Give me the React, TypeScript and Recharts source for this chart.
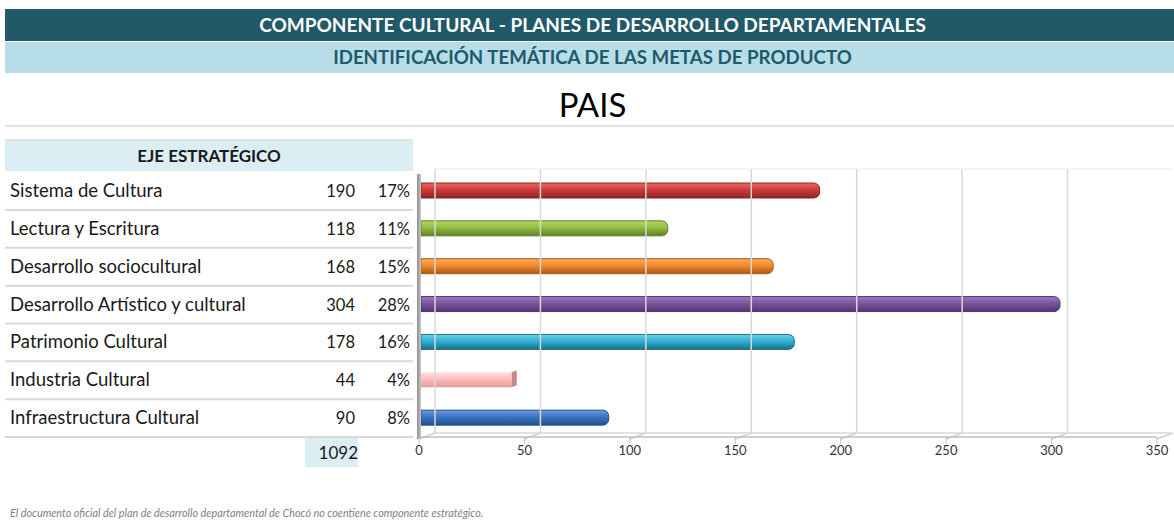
import React from "react";
import { BarChart, Bar, XAxis, YAxis, Cell, ReferenceLine, Rectangle } from "recharts";

const categories = [
  "Sistema de Cultura",
  "Lectura y Escritura",
  "Desarrollo sociocultural",
  "Desarrollo Artístico y cultural",
  "Patrimonio Cultural",
  "Industria Cultural",
  "Infraestructura Cultural",
];
const values = [190, 118, 168, 304, 178, 44, 90];
const percentLabels = ["17%", "11%", "15%", "28%", "16%", "4%", "8%"];
const xTicks = [0, 50, 100, 150, 200, 250, 300, 350];
const barColors = [
  ["#e56a6a", "#d03b3b", "#8e2424"],
  ["#b5d56a", "#93bd3f", "#5f7f25"],
  ["#ffaa5c", "#f58a2a", "#a85a18"],
  ["#9a7bbf", "#7b559f", "#4f3470"],
  ["#6fd0ea", "#2fb2d6", "#1c6f88"],
  ["#ffe0e0", "#ffbcbc", "#e29a9a"],
  ["#6a9be0", "#3b74c2", "#234f8a"],
];

const data = categories.map((name, i) => ({ name, value: values[i], pct: percentLabels[i] }));
const total = values.reduce((a, b) => a + b, 0);

const FONT = "Lato, 'Open Sans', sans-serif";

const YTick = (props: any) => {
  const { y, payload } = props;
  const row = data.find((d) => d.name === payload.value);
  return (
    <g>
      <text x={10} y={y} dy={6} fontSize={18.5} fontFamily={FONT} fill="#1a1a1a">{payload.value}</text>
      <text x={355} y={y} dy={6} fontSize={16.5} fontFamily={FONT} fill="#1a1a1a" textAnchor="end">{row ? row.value : ""}</text>
      <text x={410} y={y} dy={6} fontSize={16.5} fontFamily={FONT} fill="#1a1a1a" textAnchor="end">{row ? row.pct : ""}</text>
      <line x1={5} x2={413} y1={y + 19} y2={y + 19} stroke="#d9d9d9" strokeWidth={2} />
    </g>
  );
};

const GridShape = (props: any) => {
  const { x1 } = props;
  const top = Math.min(props.y1, props.y2);
  const bot = Math.max(props.y1, props.y2);
  const off = 16;
  const isLast = props.tickValue === 350;
  return (
    <g>
      {!isLast && <line x1={x1 + off} x2={x1 + off} y1={top - 3} y2={bot - 4} stroke="#d9d9d9" strokeWidth={1.5} />}
      <line x1={x1} x2={x1 + off} y1={bot + 2} y2={bot - 4} stroke="#d0d0d0" strokeWidth={1.5} />
    </g>
  );
};

const WallShape = (props: any) => {
  const { x1 } = props;
  const top = Math.min(props.y1, props.y2);
  const bot = Math.max(props.y1, props.y2);
  return (
    <g>
      <line x1={x1 + 16} x2={1172} y1={top - 3} y2={top - 3} stroke="#ececec" strokeWidth={1} />
      <line x1={x1 + 16} x2={1172} y1={bot - 4} y2={bot - 4} stroke="#d9d9d9" strokeWidth={1.5} />
      <rect x={x1 - 2} y={top + 2} width={4} height={bot - top} fill="url(#wall)" />
    </g>
  );
};

const BarShape = (props: any) => {
  const { x, y, width, height, index } = props;
  const dark = barColors[index][2];
  if (index === 5) {
    return (
      <g>
        <rect x={x + 2} y={y} width={width - 2} height={height} fill={`url(#g${index})`} />
        <polygon points={`${x + width},${y} ${x + width + 5},${y - 2} ${x + width + 5},${y + height - 2} ${x + width},${y + height}`} fill="#c48888" />
      </g>
    );
  }
  return (
    <Rectangle x={x + 2} y={y} width={width - 2} height={height} radius={[0, 6, 6, 0]} fill={`url(#g${index})`} stroke={dark} strokeWidth={1} />
  );
};

export default function App() {
  return (
    <div style={{ position: "absolute", left: 0, top: 0, width: 1174, height: 523, background: "#fff", fontFamily: FONT }}>
      <BarChart
        width={1174}
        height={523}
        data={data}
        layout="vertical"
        margin={{ top: 172, right: 17, bottom: 56, left: 0 }}
        barSize={15}
      >
        <defs>
          {barColors.map((c, i) => (
            <linearGradient key={i} id={`g${i}`} x1="0" y1="0" x2="0" y2="1">
              <stop offset="0%" stopColor={c[0]} />
              <stop offset="45%" stopColor={c[1]} />
              <stop offset="100%" stopColor={c[2]} />
            </linearGradient>
          ))}
          <linearGradient id="wall" x1="0" y1="0" x2="1" y2="0">
            <stop offset="0%" stopColor="#8c8c8c" />
            <stop offset="100%" stopColor="#c8c8c8" />
          </linearGradient>
        </defs>
        <XAxis
          type="number"
          domain={[0, 350]}
          ticks={xTicks}
          axisLine={{ stroke: "#bfbfbf", strokeWidth: 1.5 }}
          tickLine={{ stroke: "#bfbfbf" }}
          tickSize={7}
          tick={{ fontSize: 13, fill: "#333", fontFamily: FONT }}
          height={30}
        />
        <YAxis
          type="category"
          dataKey="name"
          width={419}
          axisLine={false}
          tickLine={false}
          tick={<YTick />}
        />
        {xTicks.map((t) => (
          <ReferenceLine key={t} x={t} shape={(p: any) => <GridShape {...p} tickValue={t} />} />
        ))}
        <ReferenceLine x={0} shape={<WallShape />} />
        <Bar dataKey="value" isAnimationActive={false} shape={<BarShape />}>
          {data.map((d, i) => (
            <Cell key={i} fill={barColors[i][1]} />
          ))}
        </Bar>
      </BarChart>

      <div style={{ position: "absolute", left: 5, top: 9, width: 1169, height: 32, background: "#215968", color: "#fff", fontWeight: 700, fontSize: 19, textAlign: "center", lineHeight: "32px", paddingLeft: 6, boxSizing: "border-box" }}>
        COMPONENTE CULTURAL - PLANES DE DESARROLLO DEPARTAMENTALES
      </div>
      <div style={{ position: "absolute", left: 5, top: 42, width: 1169, height: 31, background: "#b7dee8", color: "#215968", fontWeight: 700, fontSize: 18.7, textAlign: "center", lineHeight: "31px", paddingLeft: 6, boxSizing: "border-box" }}>
        IDENTIFICACIÓN TEMÁTICA DE LAS METAS DE PRODUCTO
      </div>
      <div style={{ position: "absolute", left: 5, top: 84, width: 1169, height: 40, color: "#000", fontSize: 33, textAlign: "center", lineHeight: "40px", paddingLeft: 6, boxSizing: "border-box" }}>
        PAIS
      </div>
      <div style={{ position: "absolute", left: 5, top: 125, width: 1169, height: 2, background: "#e3e3e3" }} />
      <div style={{ position: "absolute", left: 5, top: 139, width: 408, height: 2, background: "#e3e3e3" }} />
      <div style={{ position: "absolute", left: 5, top: 141, width: 408, height: 30, background: "#daeef3", color: "#1a1a1a", fontWeight: 700, fontSize: 17, textAlign: "center", lineHeight: "30px" }}>
        EJE ESTRATÉGICO
      </div>
      <div style={{ position: "absolute", left: 305, top: 438, width: 53, height: 29, background: "#daeef3", color: "#1a1a1a", fontSize: 17, textAlign: "right", lineHeight: "29px", boxSizing: "border-box" }}>
        {total}
      </div>
      <div style={{ position: "absolute", left: 10, top: 506, color: "#7f7f7f", fontStyle: "italic", fontSize: 10.8, whiteSpace: "nowrap" }}>
        El documento oficial del plan de desarrollo departamental de Chocó no coentiene componente estratégico.
      </div>
    </div>
  );
}
